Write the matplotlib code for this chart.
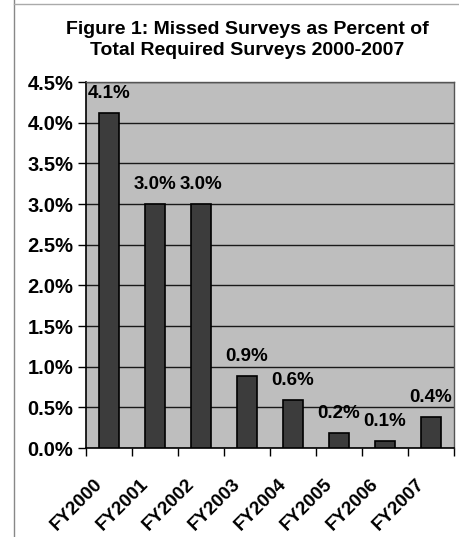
import matplotlib
matplotlib.use('Agg')
import matplotlib.pyplot as plt
import numpy as np

# Données
years = ["FY2000", "FY2001", "FY2002", "FY2003", "FY2004", "FY2005", "FY2006", "FY2007"]
missed_pct = [4.12, 3.0, 3.0, 0.88, 0.59, 0.18, 0.09, 0.38]
y_ticks = [0.0, 0.5, 1.0, 1.5, 2.0, 2.5, 3.0, 3.5, 4.0, 4.5]

plt.rcParams['font.family'] = ['Liberation Sans', 'DejaVu Sans']
plt.rcParams['font.weight'] = 'bold'

W, H = 459, 537
fig = plt.figure(figsize=(W/100, H/100), dpi=100, facecolor='white')
ax = fig.add_axes([86/W, 1-448/H, (454-86)/W, (448-82)/H])
ax.set_facecolor('#bebebe')

x = np.arange(len(years))
ax.bar(x, missed_pct, width=0.42, color='#3c3c3c', edgecolor='black', linewidth=1.2, zorder=3)

# Étiquettes de valeur
for xi, v in zip(x, missed_pct):
    ax.annotate(f"{v:.1f}%", (xi, v), xytext=(0, 14), textcoords='offset points',
                ha='center', va='center', fontsize=13.5, fontweight='bold', color='black', zorder=4)

ax.set_xlim(-0.5, len(years)-0.5)
ax.set_ylim(0, 4.5)
ax.set_yticks(y_ticks)
ax.set_yticklabels([f"{t:.1f}%" for t in y_ticks], fontsize=14.5, fontweight='bold')
ax.yaxis.grid(True, color='#1a1a1a', linewidth=1.0, zorder=1)

# Ticks x aux séparations, libellés (décalés à gauche) au centre
ax.set_xticks(np.arange(len(years)+1) - 0.5)
ax.set_xticklabels([])
ax.set_xticks(x - 0.33, minor=True)
ax.set_xticklabels(years, minor=True, rotation=45, ha='right', rotation_mode='anchor',
                   fontsize=13.5, fontweight='bold')
ax.tick_params(axis='x', which='minor', length=0, pad=20)
ax.tick_params(axis='x', which='major', length=6, width=1, direction='out')
ax.tick_params(axis='y', length=6, width=1, direction='out', pad=3)

for s in ['top', 'right']:
    ax.spines[s].set_color('#555555')
    ax.spines[s].set_linewidth(1)
for s in ['left', 'bottom']:
    ax.spines[s].set_color('black')
    ax.spines[s].set_linewidth(1.2)

fig.text(247/W, 1-40/H, "Figure 1: Missed Surveys as Percent of\nTotal Required Surveys 2000-2007",
         ha='center', va='center', fontsize=14, fontweight='bold', linespacing=1.25)

# Cadre
fig.add_artist(plt.Line2D([14/W, 14/W], [0, 1], color='#888888', linewidth=1))
fig.add_artist(plt.Line2D([14/W, 1], [1-4/H, 1-4/H], color='#aaaaaa', linewidth=1))

fig.savefig('out.png', dpi=100, facecolor='white')
